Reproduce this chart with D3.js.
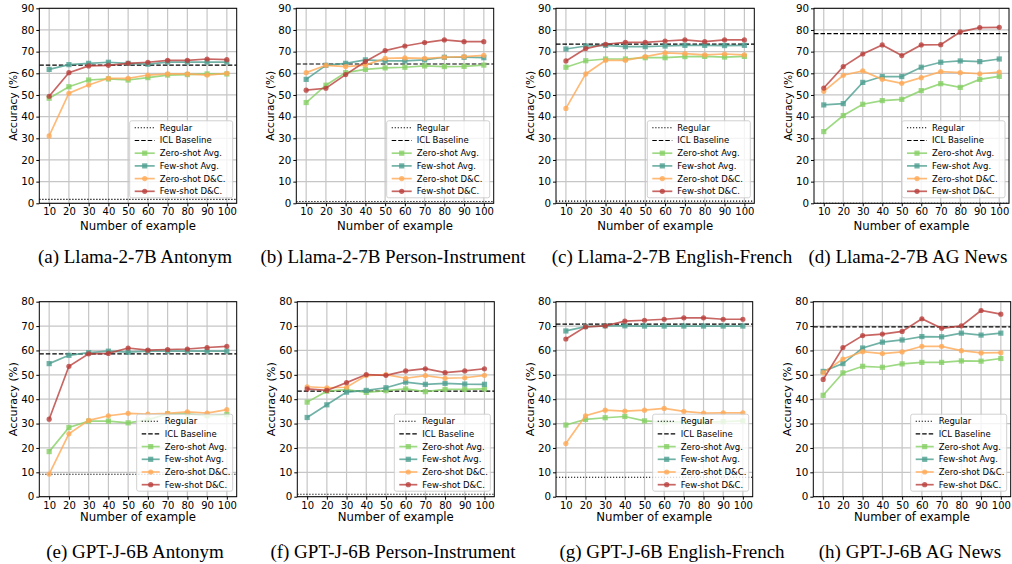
<!DOCTYPE html>
<html>
<head>
<meta charset="utf-8">
<script src="https://cdn.jsdelivr.net/npm/d3@7"></script>
<style>
  html, body { margin: 0; padding: 0; background: #fff; }
  svg { display: block; }
</style>
</head>
<body>
<svg id="fig" width="1012" height="564"></svg>
<script>
// Number of demonstration examples on the x axis
const exampleCounts = [10, 20, 30, 40, 50, 60, 70, 80, 90, 100];

// Subfigure captions, panels (a)-(h)
const captions = [
  "(a) Llama-2-7B Antonym",
  "(b) Llama-2-7B Person-Instrument",
  "(c) Llama-2-7B English-French",
  "(d) Llama-2-7B AG News",
  "(e) GPT-J-6B Antonym",
  "(f) GPT-J-6B Person-Instrument",
  "(g) GPT-J-6B English-French",
  "(h) GPT-J-6B AG News"
];

// Upper limit of the accuracy axis per panel
const yMax = [90, 90, 90, 90, 80, 80, 80, 80];
const yTicks = [[0,10,20,30,40,50,60,70,80,90], [0,10,20,30,40,50,60,70,80]];

// Horizontal reference levels per panel
const regular = [1.8, 0.8, 1.0, 0.0, 9.2, 1.0, 8.0, 0.0];
const iclBaseline = [63.8, 64.3, 73.5, 78.3, 58.6, 43.3, 70.8, 69.7];

// Accuracy (%) per panel, one row per panel (a)-(h)
const zeroShotAvg = [
  [48.5, 53.8, 56.9, 57.4, 56.9, 58.0, 59.2, 59.4, 59.7, 59.7],
  [46.5, 54.5, 60.3, 61.8, 62.5, 62.8, 63.4, 63.1, 63.2, 63.8],
  [62.8, 65.8, 66.6, 66.6, 67.2, 67.2, 67.7, 67.8, 67.5, 67.8],
  [33.1, 40.5, 45.7, 47.4, 48.0, 52.0, 55.2, 53.5, 57.2, 58.6],
  [18.5, 28.4, 31.0, 31.0, 30.3, 31.5, 34.0, 34.0, 33.2, 33.7],
  [38.8, 43.3, 43.9, 42.8, 43.5, 44.2, 43.1, 44.0, 44.0, 44.2],
  [29.4, 31.7, 32.4, 32.9, 31.1, 30.6, 30.8, 30.6, 30.8, 31.1],
  [41.6, 50.8, 53.5, 53.1, 54.5, 55.1, 55.1, 55.7, 55.6, 56.7]
];
const fewShotAvg = [
  [61.8, 64.0, 64.6, 65.1, 64.6, 64.2, 65.2, 65.2, 65.2, 65.2],
  [57.2, 63.7, 64.6, 66.2, 65.7, 65.7, 66.2, 67.4, 67.4, 67.2],
  [71.2, 72.6, 72.9, 72.3, 72.3, 72.6, 72.9, 72.9, 72.8, 72.9],
  [45.4, 46.0, 55.8, 58.5, 58.5, 62.8, 65.1, 65.7, 65.4, 66.6],
  [54.6, 58.0, 59.1, 59.7, 59.3, 59.7, 59.7, 59.7, 59.7, 59.7],
  [32.5, 37.7, 42.9, 43.6, 44.7, 47.0, 46.1, 46.5, 46.2, 46.1],
  [68.0, 69.8, 70.1, 70.1, 70.0, 70.0, 70.0, 70.0, 70.0, 70.0],
  [51.4, 54.6, 61.0, 63.4, 64.3, 65.7, 65.6, 67.1, 66.3, 67.1]
];
const zeroShotDC = [
  [31.1, 50.8, 54.6, 57.7, 57.7, 59.2, 59.7, 59.7, 59.2, 60.0],
  [60.3, 63.7, 63.1, 63.8, 66.9, 67.1, 66.9, 67.4, 67.7, 68.3],
  [43.8, 59.7, 66.0, 66.0, 67.7, 69.4, 69.1, 68.5, 68.9, 68.5],
  [51.7, 59.1, 61.1, 57.2, 55.4, 58.0, 60.8, 60.3, 59.8, 60.6],
  [9.3, 25.8, 31.3, 33.2, 34.2, 33.9, 34.2, 34.8, 34.3, 35.7],
  [45.1, 44.7, 44.9, 49.7, 50.1, 48.6, 49.7, 48.6, 48.8, 49.8],
  [21.8, 33.2, 35.5, 35.1, 35.5, 36.2, 35.0, 34.3, 34.4, 34.4],
  [50.9, 56.5, 59.5, 58.7, 59.4, 61.7, 61.7, 59.9, 59.0, 59.1]
];
const fewShotDC = [
  [49.4, 60.3, 63.4, 63.7, 64.6, 65.1, 66.0, 66.0, 66.6, 66.3],
  [52.2, 53.1, 59.4, 65.4, 70.5, 72.6, 74.2, 75.4, 74.6, 74.6],
  [65.7, 71.4, 73.4, 74.3, 74.3, 74.9, 75.4, 74.6, 75.4, 75.4],
  [53.2, 63.1, 68.9, 73.1, 68.2, 73.1, 73.2, 79.1, 81.1, 81.2],
  [31.8, 53.5, 58.6, 58.8, 61.0, 60.1, 60.4, 60.6, 61.2, 61.7],
  [44.2, 43.6, 46.8, 50.1, 49.8, 51.6, 52.5, 50.9, 51.6, 52.5],
  [64.7, 69.7, 70.1, 72.0, 72.4, 72.8, 73.4, 73.4, 72.8, 72.8],
  [48.1, 61.2, 66.1, 66.7, 67.8, 73.0, 69.1, 70.1, 76.4, 74.9]
];

const seriesNames = ["Zero-shot Avg.", "Few-shot Avg.", "Zero-shot D&C.", "Few-shot D&C."];
const seriesColors = ["#86cf64", "#4e9f91", "#ffa955", "#b9403c"];
const seriesMarkers = ["square", "square", "circle", "circle"];
const seriesData = [zeroShotAvg, fewShotAvg, zeroShotDC, fewShotDC];

// Plot-area frames: [left, right, top, bottom]
const frames = [
  [39.3, 236.7, 8.3, 203.3], [296.3, 493.7, 8.3, 203.3], [556, 754.3, 8.3, 203.3], [814, 1009, 8.3, 203.3],
  [39.3, 236.7, 301.7, 496.7], [297.3, 494.3, 301.7, 496.7], [556, 752.7, 301.7, 496.7], [813.3, 1010.7, 301.7, 496.7]
];
const captionX = [135, 393, 672, 908, 135, 393, 672, 910];
const captionY = [263, 263, 263, 263, 558, 558, 558, 558];

const SANS = "DejaVu Sans, sans-serif";
const SERIF = "Liberation Serif, Times New Roman, serif";
const MARKER = 5.2;

const svg = d3.select("#fig");
svg.append("rect").attr("width", 1012).attr("height", 564).attr("fill", "#fff");

function drawMarker(g, shape, cx, cy, color, size) {
  if (shape === "square") {
    g.append("rect")
      .attr("x", cx - size / 2).attr("y", cy - size / 2)
      .attr("width", size).attr("height", size)
      .attr("fill", color).attr("fill-opacity", 0.8);
  } else {
    g.append("circle")
      .attr("cx", cx).attr("cy", cy).attr("r", size / 2)
      .attr("fill", color).attr("fill-opacity", 0.8);
  }
}

captions.forEach((cap, p) => {
  const [L, R, T, B] = frames[p];
  const bottomRow = p >= 4;
  const x = d3.scaleLinear().domain([5, 105]).range([L, R]);
  const y = d3.scaleLinear().domain([0, yMax[p]]).range([B, T]);
  const ticksY = yTicks[bottomRow ? 1 : 0];
  const g = svg.append("g");

  const clipId = "clip" + p;
  g.append("clipPath").attr("id", clipId)
    .append("rect").attr("x", L).attr("y", T).attr("width", R - L).attr("height", B - T);

  // grid
  const grid = g.append("g").attr("stroke", "#c6c6c6").attr("stroke-width", 1.2);
  exampleCounts.forEach(v => {
    grid.append("line").attr("x1", x(v)).attr("x2", x(v)).attr("y1", T).attr("y2", B);
  });
  ticksY.forEach(v => {
    grid.append("line").attr("x1", L).attr("x2", R).attr("y1", y(v)).attr("y2", y(v));
  });

  const plot = g.append("g").attr("clip-path", `url(#${clipId})`);

  // reference lines
  plot.append("line").attr("x1", L).attr("x2", R)
    .attr("y1", y(regular[p])).attr("y2", y(regular[p]))
    .attr("stroke", "#000").attr("stroke-width", 1.1).attr("stroke-dasharray", "1.2,1.8");
  plot.append("line").attr("x1", L).attr("x2", R)
    .attr("y1", y(iclBaseline[p])).attr("y2", y(iclBaseline[p]))
    .attr("stroke", "#000").attr("stroke-width", 1.2).attr("stroke-dasharray", "4.5,2");

  // series
  const line = d3.line().x((d, i) => x(exampleCounts[i])).y(d => y(d));
  seriesData.forEach((data, s) => {
    const vals = data[p];
    plot.append("path").datum(vals).attr("d", line)
      .attr("fill", "none").attr("stroke", seriesColors[s])
      .attr("stroke-opacity", 0.8).attr("stroke-width", 1.7);
    vals.forEach((v, i) => drawMarker(plot, seriesMarkers[s], x(exampleCounts[i]), y(v), seriesColors[s], MARKER));
  });

  // spines
  g.append("rect").attr("x", L).attr("y", T).attr("width", R - L).attr("height", B - T)
    .attr("fill", "none").attr("stroke", "#000").attr("stroke-width", 1);

  // x axis ticks + labels
  const xAxis = g.append("g").attr("transform", `translate(0,${B})`)
    .call(d3.axisBottom(x).tickValues(exampleCounts).tickSize(3).tickPadding(2));
  xAxis.select(".domain").remove();
  xAxis.selectAll("text").attr("font-family", SANS).attr("font-size", 10).attr("fill", "#000");
  xAxis.selectAll("line").attr("stroke", "#000");

  const yAxis = g.append("g").attr("transform", `translate(${L},0)`)
    .call(d3.axisLeft(y).tickValues(ticksY).tickSize(3).tickPadding(2));
  yAxis.select(".domain").remove();
  yAxis.selectAll("text").attr("font-family", SANS).attr("font-size", 10.3).attr("fill", "#000");
  yAxis.selectAll("line").attr("stroke", "#000");

  // axis titles
  g.append("text").attr("x", (L + R) / 2).attr("y", B + (bottomRow ? 24.6 : 26.4))
    .attr("text-anchor", "middle").attr("font-family", SANS).attr("font-size", 11.7)
    .text("Number of example");
  g.append("text")
    .attr("transform", `translate(${L - 22},${(T + B) / 2}) rotate(-90)`)
    .attr("text-anchor", "middle").attr("font-family", SANS).attr("font-size", bottomRow ? 11.2 : 10.6)
    .text("Accuracy (%)");

  // legend
  const lw = bottomRow ? 96 : 103, lh = 77;
  const lx = R - 4 - lw, ly = B - 5.5 - lh;
  const leg = g.append("g");
  leg.append("rect").attr("x", lx).attr("y", ly).attr("width", lw).attr("height", lh)
    .attr("rx", 2).attr("fill", "#fff").attr("fill-opacity", 0.8)
    .attr("stroke", "#cccccc").attr("stroke-width", 0.9);
  const hx0 = lx + 5, hlen = bottomRow ? 18 : 20, tx = hx0 + hlen + 5;
  const rowY = i => ly + 7 + i * 12.7;
  const entries = [
    { name: "Regular", dash: "1.2,1.8" },
    { name: "ICL Baseline", dash: "4.5,2" }
  ].concat(seriesNames.map((n, s) => ({ name: n, s })));
  entries.forEach((e, i) => {
    const cy = rowY(i);
    if (e.s === undefined) {
      leg.append("line").attr("x1", hx0).attr("x2", hx0 + hlen).attr("y1", cy).attr("y2", cy)
        .attr("stroke", "#000").attr("stroke-width", 1.1).attr("stroke-dasharray", e.dash);
    } else {
      leg.append("line").attr("x1", hx0).attr("x2", hx0 + hlen).attr("y1", cy).attr("y2", cy)
        .attr("stroke", seriesColors[e.s]).attr("stroke-opacity", 0.8).attr("stroke-width", 1.7);
      drawMarker(leg, seriesMarkers[e.s], hx0 + hlen / 2, cy, seriesColors[e.s], MARKER);
    }
    leg.append("text").attr("x", tx).attr("y", cy).attr("dy", "0.35em")
      .attr("font-family", SANS).attr("font-size", 8.5).attr("fill", "#000").text(e.name);
  });

  // caption
  svg.append("text").attr("x", captionX[p]).attr("y", captionY[p])
    .attr("text-anchor", "middle").attr("font-family", SERIF).attr("font-size", 19)
    .attr("fill", "#000").text(cap);
});
</script>
</body>
</html>
